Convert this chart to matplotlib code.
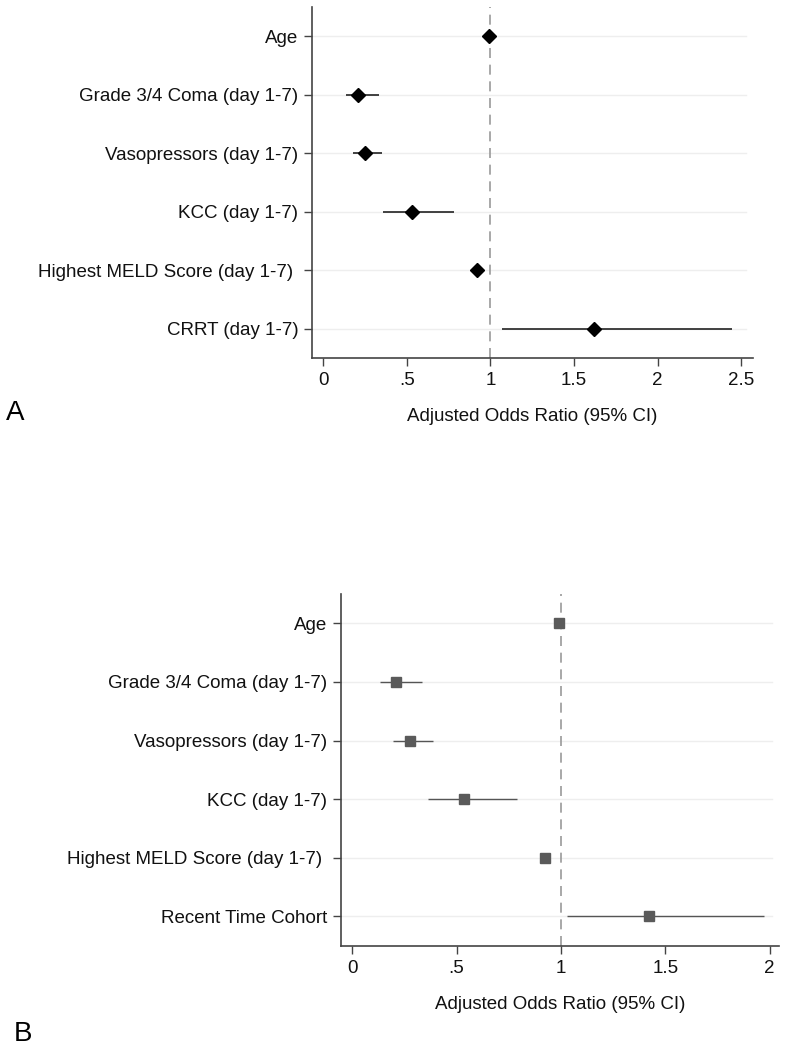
import matplotlib
matplotlib.use("Agg")
import matplotlib.pyplot as plt

plt.rcParams['font.family'] = ['Liberation Sans', 'DejaVu Sans']

# Panel A data
labels_a = ["Age", "Grade 3/4 Coma (day 1-7)", "Vasopressors (day 1-7)", "KCC (day 1-7)",
            "Highest MELD Score (day 1-7) ", "CRRT (day 1-7)"]
or_a = [0.99, 0.21, 0.25, 0.533, 0.922, 1.617]
lo_a = [0.985, 0.134, 0.176, 0.36, 0.90, 1.07]
hi_a = [0.995, 0.335, 0.35, 0.78, 0.945, 2.445]
xticks_a = [0, 0.5, 1, 1.5, 2, 2.5]
xticklabels_a = ["0", ".5", "1", "1.5", "2", "2.5"]

# Panel B data
labels_b = ["Age", "Grade 3/4 Coma (day 1-7)", "Vasopressors (day 1-7)", "KCC (day 1-7)",
            "Highest MELD Score (day 1-7) ", "Recent Time Cohort"]
or_b = [0.989, 0.211, 0.278, 0.535, 0.922, 1.423]
lo_b = [0.985, 0.133, 0.197, 0.364, 0.90, 1.028]
hi_b = [0.994, 0.333, 0.388, 0.79, 0.945, 1.973]
xticks_b = [0, 0.5, 1, 1.5, 2]
xticklabels_b = ["0", ".5", "1", "1.5", "2"]

xlabel = "Adjusted Odds Ratio (95% CI)"
FS = 13.5

fig = plt.figure(figsize=(7.85, 10.5), dpi=100)

def panel(rect, labels, ors, los, his, xticks, xtl, xlim, marker, mcolor, msize, lcolor, lw):
    ax = fig.add_axes(rect)
    n = len(labels)
    ys = list(range(n))
    for y in ys:
        ax.axhline(y, color='#eeeeee', lw=1.0, zorder=0, xmin=0.0, xmax=0.985)
    ax.axvline(1, color='#999999', lw=1.2, ls=(0, (6, 4)), zorder=1)
    ax.hlines(ys, los, his, color=lcolor, lw=lw, zorder=2)
    ax.plot(ors, ys, ls='none', marker=marker, color=mcolor, markersize=msize, zorder=3)
    ax.set_ylim(n - 0.5, -0.5)
    ax.set_xlim(*xlim)
    ax.set_yticks(ys)
    ax.set_yticklabels(labels, fontsize=FS, color='#111111')
    ax.set_xticks(xticks)
    ax.set_xticklabels(xtl, fontsize=FS, color='#111111')
    ax.set_xlabel(xlabel, fontsize=FS, color='#111111', labelpad=14)
    for s in ['top', 'right']:
        ax.spines[s].set_visible(False)
    for s in ['left', 'bottom']:
        ax.spines[s].set_color('#444444')
        ax.spines[s].set_linewidth(1.2)
    ax.tick_params(axis='both', direction='out', length=6, width=1, color='#444444', pad=4)
    return ax

panel([0.3975, 0.659, 0.5615, 0.3343], labels_a, or_a, lo_a, hi_a, xticks_a, xticklabels_a,
      (-0.067, 2.57), 'D', 'black', 7, '#222222', 1.2)
panel([0.4344, 0.0993, 0.558, 0.335], labels_b, or_b, lo_b, hi_b, xticks_b, xticklabels_b,
      (-0.054, 2.045), 's', '#5a5a5a', 7.5, '#555555', 1.0)

fig.text(15.5 / 785, 1 - 413 / 1050, "A", fontsize=20, va='center', ha='center')
fig.text(22.5 / 785, 1 - 1034 / 1050, "B", fontsize=20, va='center', ha='center')

fig.savefig("out.png", dpi=100, facecolor='white')
